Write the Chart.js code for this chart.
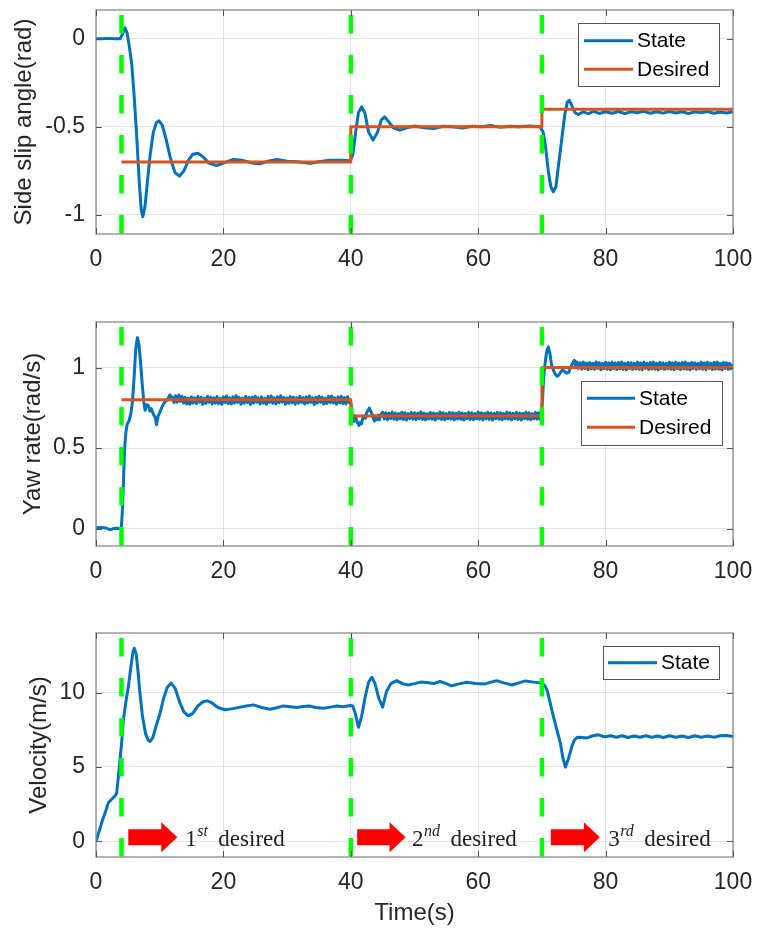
<!DOCTYPE html>
<html><head><meta charset="utf-8">
<script src="https://cdn.jsdelivr.net/npm/chart.js@4.4.1/dist/chart.umd.min.js"></script>
<style>
html,body{margin:0;padding:0;background:#fff;}
body{width:758px;height:933px;position:relative;overflow:hidden;}
canvas{position:absolute;left:0;display:block;}
</style></head><body>
<canvas id="c1" width="758" height="300" style="top:0px;width:758px;height:300px"></canvas>
<canvas id="c2" width="758" height="300" style="top:310px;width:758px;height:300px"></canvas>
<canvas id="c3" width="758" height="313" style="top:620px;width:758px;height:313px"></canvas>
<script>
// ---------------- data ----------------
const timeTicks = [0, 20, 40, 60, 80, 100];
const switchTimes = [4, 40, 70];
const slipTicks = [-1, -0.5, 0];
const yawTicks = [0, 0.5, 1];
const velTicks = [0, 5, 10];

const slipState = [
[0,0],[1,0],[2,0.002],[3,0],[3.8,0],[4.2,0.03],[4.55,0.062],[4.9,0.03],[5.3,-0.06],[5.6,-0.14],[6.0,-0.33],[6.4,-0.56],[6.8,-0.82],[7.1,-0.97],[7.35,-1.01],[7.7,-0.95],[8.1,-0.8],[8.5,-0.66],[9.0,-0.53],[9.5,-0.475],[9.9,-0.466],[10.4,-0.49],[11.0,-0.57],[11.7,-0.68],[12.4,-0.76],[13.1,-0.78],[13.8,-0.75],[14.5,-0.69],[15.2,-0.655],[16.0,-0.65],[16.8,-0.67],[17.7,-0.705],[18.9,-0.72],[20,-0.705],[21.6,-0.685],[23,-0.69],[24.5,-0.705],[25.7,-0.71],[27,-0.695],[28.4,-0.685],[30,-0.695],[31.5,-0.698],[33.6,-0.707],[35,-0.698],[36.7,-0.689],[38.5,-0.69],[39.9,-0.692],
[40.3,-0.66],[40.8,-0.52],[41.2,-0.42],[41.7,-0.387],[42.2,-0.42],[42.8,-0.53],[43.5,-0.575],[44.2,-0.53],[44.8,-0.46],[45.3,-0.443],[45.9,-0.47],[46.7,-0.505],[47.7,-0.519],[48.8,-0.505],[50,-0.495],[51.5,-0.505],[53,-0.51],[54.5,-0.497],[56,-0.5],[57.5,-0.507],[59,-0.497],[60.5,-0.5],[62,-0.492],[63.5,-0.503],[65,-0.497],[66.5,-0.5],[68,-0.495],[69.7,-0.5],
[70.2,-0.53],[70.6,-0.62],[71.0,-0.75],[71.4,-0.84],[71.8,-0.868],[72.2,-0.84],[72.6,-0.72],[73.1,-0.575],[73.6,-0.43],[74.0,-0.36],[74.3,-0.349],[74.7,-0.38],[75.2,-0.42],[75.7,-0.43],[76.5,-0.415],[77.3,-0.425],[78.1,-0.412],[79,-0.424],[80,-0.414],[81,-0.423],[82,-0.413],[83,-0.424],[84,-0.415],[85,-0.42],[86,-0.412],[87,-0.423],[88,-0.414],[89,-0.422],[90,-0.413],[91,-0.421],[92,-0.414],[93,-0.424],[94,-0.415],[95,-0.42],[96,-0.413],[97,-0.423],[98,-0.416],[99,-0.421],[100,-0.414]
];
const slipDesired = [[4,-0.7],[40,-0.7],[40,-0.5],[70,-0.5],[70,-0.4],[100,-0.4]];

const yawState = [
[0,0.005],[0.8,0.007],[1.6,0.004],[2.0,-0.004],[2.3,-0.007],[2.7,0.0],[3.3,0.002],[3.95,0.0],[4.1,0.08],[4.3,0.28],[4.5,0.5],[4.7,0.6],[4.9,0.65],[5.2,0.67],[5.5,0.72],[5.75,0.8],[6.0,0.95],[6.25,1.12],[6.5,1.186],[6.75,1.14],[7.0,1.03],[7.25,0.9],[7.5,0.79],[7.7,0.735],[7.95,0.77],[8.2,0.765],[8.45,0.73],[8.7,0.745],[9.0,0.71],[9.3,0.69],[9.5,0.645],[9.75,0.70],[10.0,0.72],[10.3,0.75],[10.6,0.775],[10.9,0.79],[11.2,0.80],[11.6,0.83],[11.9,0.805],
[12.00,0.817],[12.25,0.782],[12.50,0.825],[12.75,0.785],[13.00,0.83],[13.25,0.79],[13.50,0.822],[13.75,0.78],[14.00,0.815],[14.25,0.775],[14.50,0.81],[14.75,0.772],[15.00,0.818],[15.25,0.78],[15.50,0.812],[15.75,0.776],[16.00,0.82],[16.25,0.785],[16.50,0.815],[16.75,0.772],[17.00,0.81],[17.25,0.778],[17.50,0.822],[17.75,0.785],[18.00,0.816],[18.25,0.774],[18.50,0.812],[18.75,0.779],[19.00,0.82],[19.25,0.776],[19.50,0.81],[19.75,0.772],
[20.00,0.818],[20.25,0.783],[20.50,0.823],[20.75,0.777],[21.00,0.812],[21.25,0.774],[21.50,0.818],[21.75,0.78],[22.00,0.826],[22.25,0.784],[22.50,0.815],[22.75,0.773],[23.00,0.81],[23.25,0.778],[23.50,0.82],[23.75,0.782],[24.00,0.814],[24.25,0.771],[24.50,0.816],[24.75,0.78],[25.00,0.822],[25.25,0.785],[25.50,0.812],[25.75,0.774],[26.00,0.818],[26.25,0.779],[26.50,0.81],[26.75,0.772],[27.00,0.82],[27.25,0.784],[27.50,0.824],[27.75,0.779],[28.00,0.812],[28.25,0.775],[28.50,0.818],[28.75,0.782],[29.00,0.825],[29.25,0.786],[29.50,0.814],[29.75,0.773],
[30.00,0.811],[30.25,0.778],[30.50,0.82],[30.75,0.781],[31.00,0.816],[31.25,0.772],[31.50,0.812],[31.75,0.779],[32.00,0.821],[32.25,0.783],[32.50,0.813],[32.75,0.774],[33.00,0.817],[33.25,0.78],[33.50,0.823],[33.75,0.784],[34.00,0.812],[34.25,0.771],[34.50,0.815],[34.75,0.779],[35.00,0.822],[35.25,0.785],[35.50,0.816],[35.75,0.774],[36.00,0.81],[36.25,0.777],[36.50,0.821],[36.75,0.782],[37.00,0.824],[37.25,0.78],[37.50,0.812],[37.75,0.773],[38.00,0.818],[38.25,0.781],[38.50,0.822],[38.75,0.777],[39.00,0.813],[39.25,0.774],[39.50,0.819],[39.75,0.782],[39.9,0.80],
[40.1,0.76],[40.3,0.68],[40.5,0.665],[40.7,0.70],[40.9,0.672],[41.1,0.655],[41.3,0.64],[41.5,0.66],[41.7,0.652],[41.9,0.69],[42.1,0.70],[42.3,0.685],[42.5,0.72],[42.7,0.735],[42.9,0.748],[43.1,0.73],[43.3,0.715],[43.5,0.69],[43.7,0.668],[43.9,0.70],[44.1,0.675],[44.3,0.705],[44.5,0.675],[44.75,0.712],
[45.00,0.722],[45.25,0.681],[45.50,0.72],[45.75,0.676],[46.00,0.716],[46.25,0.684],[46.50,0.724],[46.75,0.679],[47.00,0.718],[47.25,0.675],[47.50,0.715],[47.75,0.682],[48.00,0.723],[48.25,0.678],[48.50,0.719],[48.75,0.674],[49.00,0.714],[49.25,0.683],[49.50,0.722],[49.75,0.68],
[50.00,0.72],[50.25,0.676],[50.50,0.716],[50.75,0.682],[51.00,0.725],[51.25,0.678],[51.50,0.717],[51.75,0.675],[52.00,0.713],[52.25,0.681],[52.50,0.721],[52.75,0.679],[53.00,0.718],[53.25,0.674],[53.50,0.715],[53.75,0.683],[54.00,0.724],[54.25,0.678],[54.50,0.719],[54.75,0.676],[55.00,0.714],[55.25,0.682],[55.50,0.722],[55.75,0.68],[56.00,0.72],[56.25,0.675],[56.50,0.716],[56.75,0.681],[57.00,0.723],[57.25,0.679],[57.50,0.718],[57.75,0.674],[58.00,0.715],[58.25,0.683],[58.50,0.722],[58.75,0.678],[59.00,0.719],[59.25,0.676],[59.50,0.714],[59.75,0.682],
[60.00,0.724],[60.25,0.68],[60.50,0.72],[60.75,0.675],[61.00,0.716],[61.25,0.681],[61.50,0.723],[61.75,0.678],[62.00,0.718],[62.25,0.674],[62.50,0.715],[62.75,0.683],[63.00,0.722],[63.25,0.679],[63.50,0.719],[63.75,0.676],[64.00,0.714],[64.25,0.682],[64.50,0.724],[64.75,0.68],[65.00,0.72],[65.25,0.675],[65.50,0.716],[65.75,0.681],[66.00,0.722],[66.25,0.678],[66.50,0.718],[66.75,0.674],[67.00,0.715],[67.25,0.683],[67.50,0.723],[67.75,0.679],[68.00,0.719],[68.25,0.676],[68.50,0.714],[68.75,0.682],[69.00,0.722],[69.25,0.68],[69.50,0.72],[69.75,0.678],[69.9,0.70],
[70.1,0.80],[70.3,0.95],[70.5,1.025],[70.75,1.10],[71.0,1.128],[71.25,1.09],[71.5,1.02],[71.8,0.983],[72.1,0.96],[72.4,0.945],[72.7,0.955],[73.0,0.975],[73.3,0.985],[73.6,0.975],[73.9,0.965],[74.2,0.97],[74.5,1.0],[74.8,1.025],[75.1,1.045],[75.3,1.01],[75.5,1.035],[75.75,0.995],
[76.00,1.03],[76.25,0.99],[76.50,1.034],[76.75,0.994],[77.00,1.028],[77.25,0.987],[77.50,1.032],[77.75,0.992],[78.00,1.027],[78.25,0.989],[78.50,1.035],[78.75,0.995],[79.00,1.03],[79.25,0.986],[79.50,1.026],[79.75,0.993],
[80.00,1.033],[80.25,0.99],[80.50,1.029],[80.75,0.987],[81.00,1.034],[81.25,0.994],[81.50,1.028],[81.75,0.988],[82.00,1.031],[82.25,0.992],[82.50,1.035],[82.75,0.99],[83.00,1.027],[83.25,0.986],[83.50,1.032],[83.75,0.994],[84.00,1.03],[84.25,0.989],[84.50,1.026],[84.75,0.992],[85.00,1.034],[85.25,0.99],[85.50,1.029],[85.75,0.987],[86.00,1.033],[86.25,0.995],[86.50,1.028],[86.75,0.988],[87.00,1.031],[87.25,0.991],[87.50,1.035],[87.75,0.99],[88.00,1.027],[88.25,0.986],[88.50,1.032],[88.75,0.994],[89.00,1.03],[89.25,0.989],[89.50,1.026],[89.75,0.993],
[90.00,1.034],[90.25,0.99],[90.50,1.029],[90.75,0.987],[91.00,1.033],[91.25,0.994],[91.50,1.028],[91.75,0.988],[92.00,1.031],[92.25,0.992],[92.50,1.035],[92.75,0.99],[93.00,1.027],[93.25,0.986],[93.50,1.032],[93.75,0.994],[94.00,1.03],[94.25,0.989],[94.50,1.026],[94.75,0.993],[95.00,1.034],[95.25,0.99],[95.50,1.029],[95.75,0.987],[96.00,1.033],[96.25,0.995],[96.50,1.028],[96.75,0.988],[97.00,1.031],[97.25,0.991],[97.50,1.035],[97.75,0.99],[98.00,1.027],[98.25,0.986],[98.50,1.032],[98.75,0.994],[99.00,1.03],[99.25,0.989],[99.50,1.026],[99.75,0.993],[100,1.02]
];
const yawDesired = [[4,0.8],[40,0.8],[40,0.7],[70,0.7],[70,1.0],[100,1.0]];

const velState = [
[0,0],[0.5,0.7],[1,1.4],[1.5,2.0],[1.94,2.6],[2.5,2.85],[3.0,3.06],[3.24,3.24],[3.5,4.3],[3.77,5.48],[4.0,6.5],[4.3,8.17],[4.7,9.4],[5.08,10.4],[5.5,11.8],[5.8,12.7],[6.0,12.98],[6.3,12.6],[6.6,11.4],[6.9,9.96],[7.3,8.4],[7.8,7.2],[8.2,6.8],[8.5,6.71],[8.9,6.95],[9.4,7.7],[10.05,8.6],[10.6,9.6],[11.2,10.35],[11.8,10.63],[12.4,10.3],[13.2,9.28],[13.8,8.7],[14.5,8.43],[15.2,8.6],[16,9.1],[16.8,9.38],[17.5,9.44],[18.2,9.3],[19.2,8.98],[20.3,8.84],[21.5,8.92],[22.6,9.02],[23.6,9.1],[24.7,9.17],[26,9.0],[27.3,8.88],[28.4,8.98],[29.4,9.1],[30.5,9.05],[31.5,9.0],[32.5,9.06],[33.5,9.1],[34.5,9.0],[35.7,8.95],[36.8,9.02],[37.8,9.1],[38.8,9.05],[39.9,9.13],
[40.3,9.1],[40.7,8.6],[41.2,7.67],[41.7,8.4],[42.3,9.8],[42.8,10.7],[43.3,11.03],[43.8,10.6],[44.4,9.6],[45.0,9.02],[45.6,10.07],[46.3,10.6],[47.2,10.8],[48.1,10.6],[49,10.51],[50,10.6],[51,10.7],[51.9,10.67],[53,10.6],[54,10.74],[55,10.6],[55.8,10.45],[57,10.58],[58.2,10.69],[59.6,10.6],[61.1,10.58],[62,10.7],[62.9,10.8],[64,10.65],[65.3,10.51],[66.4,10.65],[67.4,10.78],[68.7,10.7],[70,10.63],
[70.4,10.5],[70.8,10.18],[71.3,9.3],[71.8,8.39],[72.4,7.4],[72.9,6.6],[73.3,5.6],[73.7,4.99],[74.2,5.6],[74.7,6.38],[75.1,6.8],[75.6,7.0],[76.3,6.98],[77,6.94],[77.9,7.08],[78.9,7.16],[79.8,7.02],[80.8,7.1],[81.7,7.0],[82.6,7.1],[83.5,6.98],[84.5,7.08],[85.4,7.0],[86.3,7.1],[87.2,7.0],[88.2,7.08],[89.1,6.98],[90,7.1],[91,7.0],[92,7.08],[93,6.98],[94,7.1],[95,7.0],[96,7.08],[97,7.0],[98,7.1],[99,7.12],[100,7.05]
];

const arrowNumbers = ['1', '2', '3'];
const arrowSuffixes = ['st', 'nd', 'rd'];
const arrowWord = 'desired';
const arrowFrom = [5.07, 41.0, 71.4];
const arrowTo = [12.76, 48.6, 79.1];
const arrowTextAt = [14.0, 49.6, 80.4];
const arrowLevel = 0.28;

// ---------------- styling ----------------
const BLUE = '#0072BD', ORANGE = '#D95319', GREEN = '#00FF00', TXT = '#262626';
const GRID = 'rgba(38,38,38,0.13)';
const SANS = '"Liberation Sans", Arial, Helvetica, sans-serif';
const SERIF = '"Liberation Serif", "Times New Roman", serif';

function pts(arr) { return arr.map(p => ({x: p[0], y: p[1]})); }
function lineSet(label, arr, color, order) {
  return {label, data: pts(arr), borderColor: color, backgroundColor: color, borderWidth: 3,
    pointRadius: 0, tension: 0, fill: false, order, borderJoinStyle: 'round', borderCapStyle: 'butt'};
}
function greenSets(yMin, yMax) {
  return switchTimes.map(t => ({label: '', data: [{x: t, y: yMax}, {x: t, y: yMin}], borderColor: GREEN,
    borderWidth: 4.5, borderDash: [18.5, 21.5], borderDashOffset: 35, pointRadius: 0, fill: false,
    order: 0, borderCapStyle: 'butt', isSwitch: true}));
}

const overlay = {
  id: 'overlay',
  afterDatasetsDraw(chart, args, opts) {
    const {ctx, chartArea: a} = chart;
    const x = chart.scales.x, y = chart.scales.y;
    ctx.save();
    if (opts.arrows) {
      const yc = y.getPixelForValue(arrowLevel);
      for (let i = 0; i < arrowFrom.length; i++) {
        const x0 = x.getPixelForValue(arrowFrom[i]);
        const x1 = x.getPixelForValue(arrowTo[i]);
        const head = 16, sh = 8, hh = 15;
        ctx.fillStyle = '#FF0000';
        ctx.beginPath();
        ctx.moveTo(x0, yc - sh); ctx.lineTo(x1 - head, yc - sh); ctx.lineTo(x1 - head, yc - hh);
        ctx.lineTo(x1, yc); ctx.lineTo(x1 - head, yc + hh); ctx.lineTo(x1 - head, yc + sh);
        ctx.lineTo(x0, yc + sh); ctx.closePath(); ctx.fill();
        const tx = x.getPixelForValue(arrowTextAt[i]);
        const base = yc + 9;
        ctx.fillStyle = '#222';
        ctx.textBaseline = 'alphabetic'; ctx.textAlign = 'left';
        ctx.font = '23px ' + SERIF;
        ctx.fillText(arrowNumbers[i], tx, base);
        const w1 = ctx.measureText(arrowNumbers[i]).width;
        ctx.font = 'italic 16px ' + SERIF;
        ctx.fillText(arrowSuffixes[i], tx + w1 + 0.5, base - 10);
        const w2 = ctx.measureText(arrowSuffixes[i]).width;
        ctx.font = '23px ' + SERIF;
        ctx.fillText(arrowWord, tx + w1 + w2 + 11, base);
      }
    }
    ctx.strokeStyle = '#8a8a8a'; ctx.lineWidth = 1.3;
    ctx.strokeRect(a.left, a.top, a.right - a.left, a.bottom - a.top);
    ctx.strokeStyle = '#555'; ctx.lineWidth = 1;
    ctx.beginPath();
    x.ticks.forEach(t => { const p = Math.round(x.getPixelForValue(t.value)) + 0.5;
      ctx.moveTo(p, a.top); ctx.lineTo(p, a.top + 6); ctx.moveTo(p, a.bottom); ctx.lineTo(p, a.bottom - 6); });
    y.ticks.forEach(t => { const p = Math.round(y.getPixelForValue(t.value)) + 0.5;
      ctx.moveTo(a.left, p); ctx.lineTo(a.left + 6, p); ctx.moveTo(a.right, p); ctx.lineTo(a.right - 6, p); });
    ctx.stroke();
    const L = opts.legend;
    if (L) {
      ctx.fillStyle = '#fff';
      ctx.fillRect(L.box[0], L.box[1], L.box[2] - L.box[0], L.box[3] - L.box[1]);
      ctx.strokeStyle = '#555'; ctx.lineWidth = 1;
      ctx.strokeRect(L.box[0] + 0.5, L.box[1] + 0.5, L.box[2] - L.box[0], L.box[3] - L.box[1]);
      const sets = chart.data.datasets.filter(d => !d.isSwitch);
      sets.forEach((d, i) => {
        const yy = L.rows[i];
        ctx.strokeStyle = d.borderColor; ctx.lineWidth = 3;
        ctx.beginPath(); ctx.moveTo(L.line[0], yy); ctx.lineTo(L.line[1], yy); ctx.stroke();
        ctx.fillStyle = '#000'; ctx.font = '21px ' + SANS;
        ctx.textBaseline = 'middle'; ctx.textAlign = 'left';
        ctx.fillText(d.label, L.text, yy + 1);
      });
    }
    ctx.restore();
  }
};

function makeChart(id, c) {
  const datasets = greenSets(c.min, c.max).concat(c.sets);
  return new Chart(document.getElementById(id), {
    type: 'line',
    data: {datasets},
    options: {
      responsive: false, animation: false, events: [],
      layout: {padding: {left: 0, right: 25, top: c.padTop, bottom: 0}},
      plugins: {legend: {display: false}, tooltip: {enabled: false}, overlay: {legend: c.legend, arrows: c.arrows}},
      scales: {
        x: {
          type: 'linear', min: 0, max: 100,
          afterBuildTicks: s => { s.ticks = timeTicks.map(v => ({value: v})); },
          afterFit: s => { s.height = c.xH; s.paddingLeft = 0; s.paddingRight = 0; },
          grid: {color: GRID, drawTicks: false, lineWidth: 1},
          border: {display: false},
          ticks: {padding: 12, color: TXT, font: {family: SANS, size: 23}, maxRotation: 0, autoSkip: false,
            callback: v => String(v)},
          title: c.xTitle ? {display: true, text: c.xTitle, color: TXT, font: {family: SANS, size: 24},
            padding: {top: 0, bottom: 5}} : {display: false}
        },
        y: {
          type: 'linear', min: c.min, max: c.max,
          afterBuildTicks: s => { s.ticks = c.ticks.map(v => ({value: v})); },
          afterFit: s => { s.width = 96; s.paddingTop = 0; s.paddingBottom = 0; },
          grid: {color: GRID, drawTicks: false, lineWidth: 1},
          border: {display: false},
          ticks: {padding: 11, color: TXT, font: {family: SANS, size: 23}, autoSkip: false,
            callback: v => String(v)},
          title: {display: true, text: c.yTitle, color: TXT, font: {family: SANS, size: 24},
            padding: {top: c.yTitlePad, bottom: 0}}
        }
      }
    },
    plugins: [overlay]
  });
}

makeChart('c1', {
  min: -1.108, max: 0.163, ticks: slipTicks, padTop: 10, xH: 66, yTitle: 'Side slip angle(rad)', yTitlePad: 9.5,
  sets: [lineSet('State', slipState, BLUE, 2), lineSet('Desired', slipDesired, ORANGE, 1)],
  legend: {box: [578, 23, 719, 86], rows: [40.7, 69.3], line: [584, 633], text: 637}
});
makeChart('c2', {
  min: -0.108, max: 1.283, ticks: yawTicks, padTop: 12, xH: 64, yTitle: 'Yaw rate(rad/s)', yTitlePad: 19,
  sets: [lineSet('State', yawState, BLUE, 2), lineSet('Desired', yawDesired, ORANGE, 1)],
  legend: {box: [581, 71, 722, 135], rows: [88.3, 117.3], line: [587, 635], text: 639}
});
makeChart('c3', {
  min: -1.05, max: 14.0, ticks: velTicks, padTop: 13, xH: 76, yTitle: 'Velocity(m/s)', yTitlePad: 25,
  xTitle: 'Time(s)',
  sets: [lineSet('State', velState, BLUE, 2)],
  legend: {box: [603, 26, 719, 59], rows: [42.7], line: [608, 657], text: 661},
  arrows: true
});
</script>
</body></html>
